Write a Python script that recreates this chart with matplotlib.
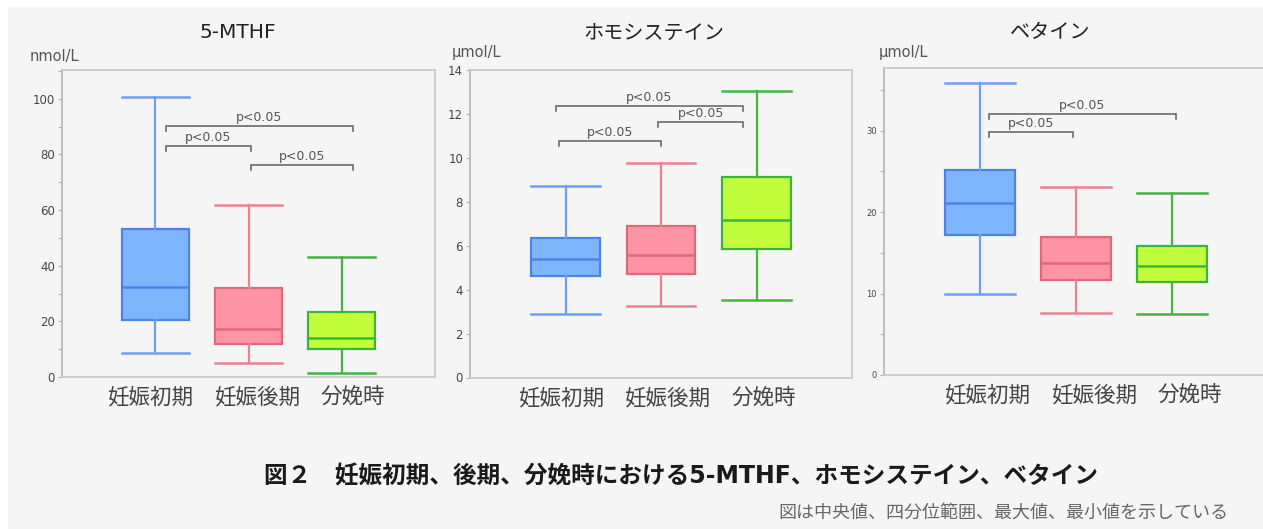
import matplotlib
matplotlib.use('Agg')
import matplotlib.pyplot as plt
from matplotlib.patches import Rectangle
from matplotlib.ticker import MultipleLocator

plt.rcParams['font.family'] = ['DejaVu Sans', 'Noto Sans CJK JP']

# ---------------- data ----------------
categories = ['妊娠初期', '妊娠後期', '分娩時']
titles = ['5-MTHF', 'ホモシステイン', 'ベタイン']
units = ['nmol/L', 'µmol/L', 'µmol/L']

mthf_min = [8.5, 5.1, 1.3]
mthf_q1 = [20.5, 11.7, 9.9]
mthf_med = [32.2, 17.1, 14.1]
mthf_q3 = [53.1, 31.9, 23.4]
mthf_max = [100.6, 61.8, 43.2]

hcy_min = [2.90, 3.27, 3.52]
hcy_q1 = [4.60, 4.72, 5.86]
hcy_med = [5.41, 5.56, 7.15]
hcy_q3 = [6.36, 6.91, 9.13]
hcy_max = [8.72, 9.77, 13.06]

bet_min = [10.0, 7.6, 7.5]
bet_q1 = [17.2, 11.7, 11.4]
bet_med = [21.1, 13.7, 13.4]
bet_q3 = [25.2, 17.0, 15.8]
bet_max = [35.8, 23.1, 22.3]

p_label = 'p<0.05'
# significance brackets: (x start, x end, height)
mthf_brackets = [(1.11, 3.12, 90.3), (1.11, 2.03, 83.0), (2.03, 3.12, 76.0)]
hcy_brackets = [(0.90, 2.86, 12.36), (1.97, 2.86, 11.63), (0.93, 2.00, 10.78)]
bet_brackets = [(1.09, 3.04, 32.0), (1.09, 1.97, 29.84)]

caption = '図２　妊娠初期、後期、分娩時における5-MTHF、ホモシステイン、ベタイン'
note = '図は中央値、四分位範囲、最大値、最小値を示している'

# ---------------- style ----------------
face_colors = ['#7eb6fd', '#fd94a4', '#c1fd3b']
edge_colors = ['#4f82e8', '#e0687a', '#3cb43c']
whisk_colors = ['#6e9ff0', '#e8838f', '#45b540']

W, H = 1263, 529
BG = '#f5f5f5'

fig = plt.figure(figsize=(W / 100, H / 100), dpi=100, facecolor='white')
fig.add_artist(Rectangle((8 / W, 0), 1, 1 - 7 / H, transform=fig.transFigure,
                         facecolor=BG, edgecolor='none', zorder=-10))


def rect(l, r, t, b):
    return [l / W, 1 - b / H, (r - l) / W, (b - t) / H]


panels = [
    dict(pos=rect(62, 435, 70, 377), ylim=(0, 110.3), major=20, minor=10, tsize=8.5,
         stats=(mthf_min, mthf_q1, mthf_med, mthf_q3, mthf_max), br=mthf_brackets,
         title_xy=(238, 33), unit_xy=(30, 56), label_x=[0.94, 2.09, 3.12]),
    dict(pos=rect(470, 852, 70, 377.5), ylim=(0, 14), major=2, minor=None, tsize=8.5,
         stats=(hcy_min, hcy_q1, hcy_med, hcy_q3, hcy_max), br=hcy_brackets,
         title_xy=(654, 33), unit_xy=(452, 52), label_x=[0.95, 2.06, 3.08]),
    dict(pos=rect(884, 1268, 68, 375), ylim=(0, 37.7), major=10, minor=5, tsize=6,
         stats=(bet_min, bet_q1, bet_med, bet_q3, bet_max), br=bet_brackets,
         title_xy=(1050, 33), unit_xy=(879, 53), label_x=[1.07, 2.19, 3.19]),
]

positions = [1, 2, 3]
bw = 0.72

for k, p in enumerate(panels):
    ax = fig.add_axes(p['pos'])
    ax.set_facecolor(BG)
    mn, q1, md, q3, mx = p['stats']
    stats = [dict(whislo=mn[i], q1=q1[i], med=md[i], q3=q3[i], whishi=mx[i],
                  fliers=[], label=categories[i]) for i in range(3)]
    art = ax.bxp(stats, positions=positions, widths=bw, capwidths=bw,
                 patch_artist=True, showfliers=False)
    for i in range(3):
        art['boxes'][i].set(facecolor=face_colors[i], edgecolor=edge_colors[i], linewidth=1.6)
        art['medians'][i].set(color=edge_colors[i], linewidth=1.8)
        for j in (2 * i, 2 * i + 1):
            art['whiskers'][j].set(color=whisk_colors[i], linewidth=1.6)
            art['caps'][j].set(color=whisk_colors[i], linewidth=1.8)
    ax.set_xlim(0, 4)
    ax.set_ylim(*p['ylim'])
    ax.yaxis.set_major_locator(MultipleLocator(p['major']))
    if p['minor']:
        ax.yaxis.set_minor_locator(MultipleLocator(p['minor']))
    ax.tick_params(axis='y', which='both', colors='#b0b0b0', labelcolor='#444444',
                   labelsize=p['tsize'], length=3, width=0.8, pad=2)
    ax.tick_params(axis='x', length=0, labelsize=15.5, labelcolor='#444444', pad=7)
    ax.set_xticks(p['label_x'])
    ax.set_xticklabels(categories)
    for side, sp in ax.spines.items():
        sp.set_color('#c8c8c8')
        sp.set_linewidth(1.2)
    ax.spines['left'].set_color('#b4b4b4')

    drop = 0.016 * (p['ylim'][1] - p['ylim'][0])
    for (x1, x2, y) in p['br']:
        ax.plot([x1, x1, x2, x2], [y - drop, y, y, y - drop], color='#6a6a6a',
                lw=1.2, solid_joinstyle='miter', zorder=5)
        ax.annotate(p_label, ((x1 + x2) / 2, y), xytext=(0, 1.5),
                    textcoords='offset points', ha='center', va='bottom',
                    fontsize=9, color='#555555')

    tx, ty = p['title_xy']
    fig.text(tx / W, 1 - ty / H, titles[k], ha='center', va='center',
             fontsize=14.5, color='#222222')
    ux, uy = p['unit_xy']
    fig.text(ux / W, 1 - uy / H, units[k], ha='left', va='center',
             fontsize=10.5, color='#555555')

fig.text(264 / W, 1 - 476 / H, caption, ha='left', va='center', fontsize=17,
         fontweight='bold', color='#1a1a1a')
fig.text(1228 / W, 1 - 513 / H, note, ha='right', va='center', fontsize=13,
         color='#666666')

fig.savefig('out.png', dpi=100, facecolor=fig.get_facecolor())
